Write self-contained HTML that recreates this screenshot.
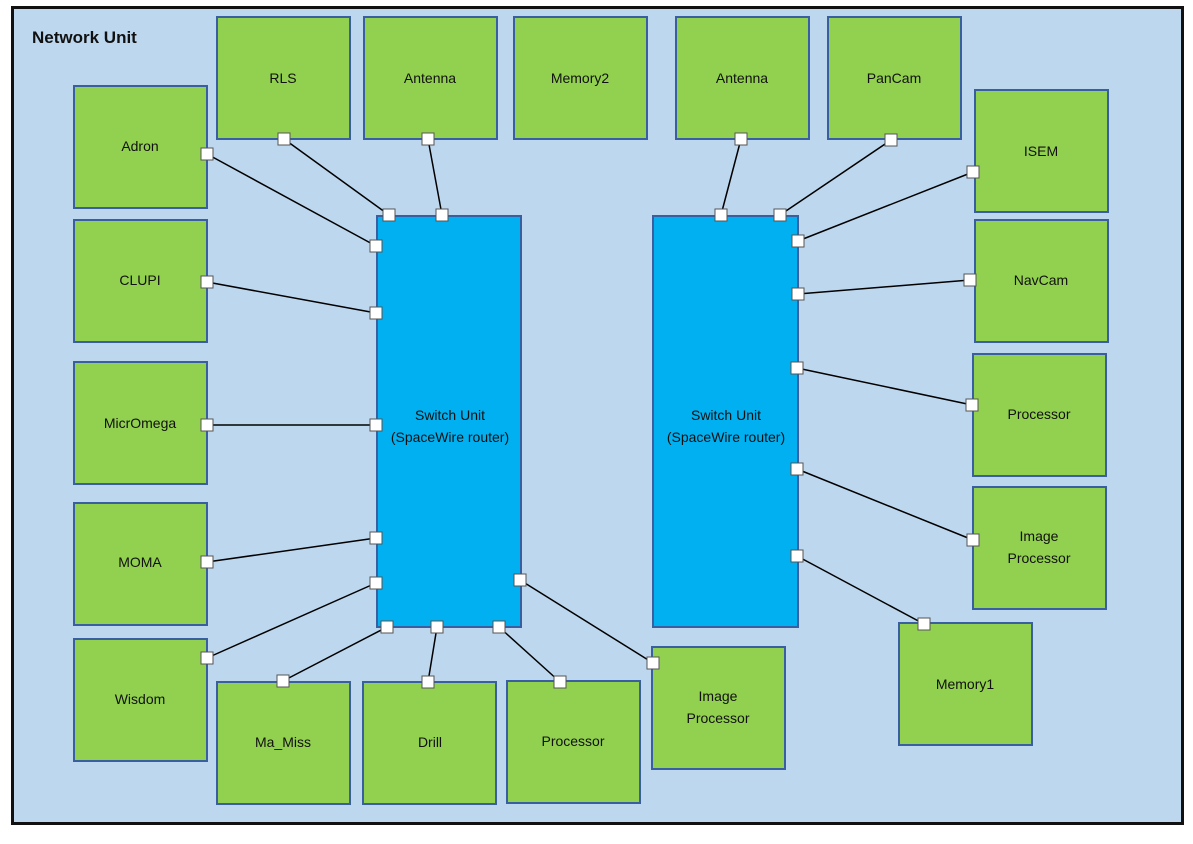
<!DOCTYPE html>
<html><head><meta charset="utf-8"><style>
body{margin:0;background:#fff;width:1193px;height:839px;overflow:hidden}
svg text{font-family:"Liberation Sans",sans-serif;font-size:14px;fill:#111}
</style></head><body>
<svg width="1193" height="839" xmlns="http://www.w3.org/2000/svg">
<rect x="12.5" y="7.5" width="1170" height="816" fill="#bdd7ee" stroke="#111" stroke-width="3"/>
<text x="32" y="43" style="font-weight:bold;font-size:17px">Network Unit</text>
<g fill="#92d050" stroke="#3a5fa0" stroke-width="2">
<rect x="217" y="17" width="133" height="122"/>
<rect x="364" y="17" width="133" height="122"/>
<rect x="514" y="17" width="133" height="122"/>
<rect x="676" y="17" width="133" height="122"/>
<rect x="828" y="17" width="133" height="122"/>
<rect x="74" y="86" width="133" height="122"/>
<rect x="74" y="220" width="133" height="122"/>
<rect x="74" y="362" width="133" height="122"/>
<rect x="74" y="503" width="133" height="122"/>
<rect x="74" y="639" width="133" height="122"/>
<rect x="217" y="682" width="133" height="122"/>
<rect x="363" y="682" width="133" height="122"/>
<rect x="507" y="681" width="133" height="122"/>
<rect x="652" y="647" width="133" height="122"/>
<rect x="975" y="90" width="133" height="122"/>
<rect x="975" y="220" width="133" height="122"/>
<rect x="973" y="354" width="133" height="122"/>
<rect x="973" y="487" width="133" height="122"/>
<rect x="899" y="623" width="133" height="122"/>
</g>
<g fill="#00b0f0" stroke="#3a5fa0" stroke-width="2">
<rect x="377" y="216" width="144" height="411"/>
<rect x="653" y="216" width="145" height="411"/>
</g>
<g stroke="#000" stroke-width="1.5">
<line x1="207" y1="154" x2="376" y2="246"/>
<line x1="284" y1="139" x2="389" y2="215"/>
<line x1="428" y1="139" x2="442" y2="215"/>
<line x1="741" y1="139" x2="721" y2="215"/>
<line x1="891" y1="140" x2="780" y2="215"/>
<line x1="973" y1="172" x2="798" y2="241"/>
<line x1="970" y1="280" x2="798" y2="294"/>
<line x1="972" y1="405" x2="797" y2="368"/>
<line x1="973" y1="540" x2="797" y2="469"/>
<line x1="924" y1="624" x2="797" y2="556"/>
<line x1="207" y1="282" x2="376" y2="313"/>
<line x1="207" y1="425" x2="376" y2="425"/>
<line x1="207" y1="562" x2="376" y2="538"/>
<line x1="207" y1="658" x2="376" y2="583"/>
<line x1="283" y1="681" x2="387" y2="627"/>
<line x1="428" y1="682" x2="437" y2="627"/>
<line x1="560" y1="682" x2="499" y2="627"/>
<line x1="653" y1="663" x2="520" y2="580"/>
</g>
<g fill="#fff" stroke="#555" stroke-width="1">
<rect x="201" y="148" width="12" height="12"/>
<rect x="278" y="133" width="12" height="12"/>
<rect x="422" y="133" width="12" height="12"/>
<rect x="735" y="133" width="12" height="12"/>
<rect x="885" y="134" width="12" height="12"/>
<rect x="967" y="166" width="12" height="12"/>
<rect x="964" y="274" width="12" height="12"/>
<rect x="966" y="399" width="12" height="12"/>
<rect x="967" y="534" width="12" height="12"/>
<rect x="918" y="618" width="12" height="12"/>
<rect x="201" y="276" width="12" height="12"/>
<rect x="201" y="419" width="12" height="12"/>
<rect x="201" y="556" width="12" height="12"/>
<rect x="201" y="652" width="12" height="12"/>
<rect x="277" y="675" width="12" height="12"/>
<rect x="422" y="676" width="12" height="12"/>
<rect x="554" y="676" width="12" height="12"/>
<rect x="647" y="657" width="12" height="12"/>
<rect x="383" y="209" width="12" height="12"/>
<rect x="436" y="209" width="12" height="12"/>
<rect x="370" y="240" width="12" height="12"/>
<rect x="370" y="307" width="12" height="12"/>
<rect x="370" y="419" width="12" height="12"/>
<rect x="370" y="532" width="12" height="12"/>
<rect x="370" y="577" width="12" height="12"/>
<rect x="381" y="621" width="12" height="12"/>
<rect x="431" y="621" width="12" height="12"/>
<rect x="493" y="621" width="12" height="12"/>
<rect x="514" y="574" width="12" height="12"/>
<rect x="715" y="209" width="12" height="12"/>
<rect x="774" y="209" width="12" height="12"/>
<rect x="792" y="235" width="12" height="12"/>
<rect x="792" y="288" width="12" height="12"/>
<rect x="791" y="362" width="12" height="12"/>
<rect x="791" y="463" width="12" height="12"/>
<rect x="791" y="550" width="12" height="12"/>
</g>
<g text-anchor="middle">
<text x="283" y="83">RLS</text>
<text x="430" y="83">Antenna</text>
<text x="580" y="83">Memory2</text>
<text x="742" y="83">Antenna</text>
<text x="894" y="83">PanCam</text>
<text x="140" y="151">Adron</text>
<text x="140" y="285">CLUPI</text>
<text x="140" y="428">MicrOmega</text>
<text x="140" y="567">MOMA</text>
<text x="140" y="704">Wisdom</text>
<text x="283" y="747">Ma_Miss</text>
<text x="430" y="747">Drill</text>
<text x="573" y="746">Processor</text>
<text x="718" y="701">Image</text>
<text x="718" y="723">Processor</text>
<text x="1041" y="156">ISEM</text>
<text x="1041" y="285">NavCam</text>
<text x="1039" y="419">Processor</text>
<text x="1039" y="541">Image</text>
<text x="1039" y="563">Processor</text>
<text x="965" y="689">Memory1</text>
<text x="450" y="420">Switch Unit</text>
<text x="450" y="442">(SpaceWire router)</text>
<text x="726" y="420">Switch Unit</text>
<text x="726" y="442">(SpaceWire router)</text>
</g>
</svg>
</body></html>
